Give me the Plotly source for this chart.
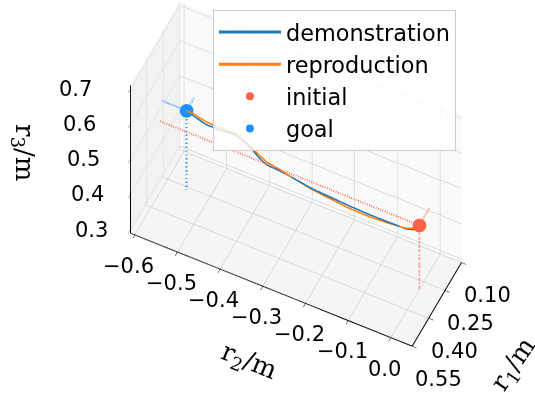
import plotly.graph_objects as go

# reproduced trajectory (r1, r2, r3 in metres)
r1_rep = [0.265, 0.266, 0.267, 0.269, 0.270, 0.272, 0.273, 0.274, 0.275,
          0.276, 0.278, 0.280, 0.282, 0.285, 0.287, 0.288, 0.289, 0.290]
r2_rep = [-0.552, -0.536, -0.506, -0.473, -0.436, -0.403, -0.380, -0.361, -0.334,
          -0.303, -0.257, -0.210, -0.164, -0.117, -0.071, -0.031, -0.008, 0.000]
r3_rep = [0.516, 0.516, 0.508, 0.508, 0.510, 0.495, 0.478, 0.467, 0.462,
          0.454, 0.444, 0.439, 0.435, 0.436, 0.441, 0.447, 0.460, 0.472]

# demonstrated trajectory
r1_demo = [0.265, 0.266, 0.267, 0.269, 0.270, 0.272, 0.273, 0.274, 0.275,
           0.276, 0.278, 0.280, 0.282, 0.285, 0.287, 0.288, 0.289, 0.290]
r2_demo = [-0.552, -0.536, -0.506, -0.473, -0.436, -0.403, -0.380, -0.361, -0.334,
           -0.303, -0.257, -0.210, -0.164, -0.117, -0.071, -0.031, -0.010, -0.005]
r3_demo = [0.516, 0.510, 0.500, 0.502, 0.506, 0.491, 0.470, 0.459, 0.458,
           0.454, 0.446, 0.444, 0.442, 0.442, 0.444, 0.445, 0.454, 0.462]

initial = (0.290, 0.000, 0.472)
goal = (0.265, -0.552, 0.516)

# planes the guide lines are dropped onto
r1_plane = 0.195
r2_plane = -0.61
r3_plane = 0.29

r1_range = [0.10, 0.55]
r2_range = [-0.61, 0.05]
r3_range = [0.29, 0.71]
r1_ticks = [0.10, 0.25, 0.40, 0.55]
r2_ticks = [-0.6, -0.5, -0.4, -0.3, -0.2, -0.1, 0.0]
r3_ticks = [0.3, 0.4, 0.5, 0.6, 0.7]

C_DEMO = "#1f77b4"
C_REP = "#ff7f0e"
C_INIT = "#ff6347"
C_GOAL = "#1e90ff"


def fmt(v, nd):
    s = f"{v:.{nd}f}"
    return s.replace("-", "\u2212")


def guides(p, color):
    x, y, z = p
    segs_x = [x, r1_plane, None, x, x, None, x, x]
    segs_y = [y, y, None, y, r2_plane, None, y, y]
    segs_z = [z, z, None, z, z, None, z, r3_plane]
    return go.Scatter3d(x=segs_x, y=segs_y, z=segs_z, mode="lines",
                        line=dict(color=color, width=4, dash="dot"),
                        showlegend=False, hoverinfo="skip")


fig = go.Figure()
fig.add_trace(guides(initial, C_INIT))
fig.add_trace(guides(goal, C_GOAL))
fig.add_trace(go.Scatter3d(x=r1_demo, y=r2_demo, z=r3_demo, mode="lines",
                           name="demonstration", line=dict(color=C_DEMO, width=3)))
fig.add_trace(go.Scatter3d(x=r1_rep, y=r2_rep, z=r3_rep, mode="lines",
                           name="reproduction", line=dict(color=C_REP, width=3)))
fig.add_trace(go.Scatter3d(x=[initial[0]], y=[initial[1]], z=[initial[2]], mode="markers",
                           name="initial", marker=dict(color=C_INIT, size=8)))
fig.add_trace(go.Scatter3d(x=[goal[0]], y=[goal[1]], z=[goal[2]], mode="markers",
                           name="goal", marker=dict(color=C_GOAL, size=8)))

tick_font = dict(family="DejaVu Sans", size=21, color="black")
title_font = dict(family="DejaVu Serif", size=26, color="black")


def axis(rng, ticks, pane):
    return dict(range=rng, tickvals=ticks, showticklabels=False,
                title=dict(text=""),
                showbackground=True, backgroundcolor=pane,
                gridcolor="#c4c4c4", gridwidth=1,
                showline=True, linecolor="black", linewidth=2,
                ticks="outside", tickcolor="black", ticklen=5,
                zeroline=False, showspikes=False, autorange=False)


# tick labels placed next to the drawn axis edges
tick_notes = []
for t in r3_ticks:
    lean = (t - r3_ticks[0]) / (r3_ticks[-1] - r3_ticks[0])
    tick_notes.append(dict(x=r1_range[1], y=r2_range[0], z=t, text=fmt(t, 1),
                           showarrow=False, xanchor="right", yanchor="middle",
                           xshift=-20 - 16 * lean, font=tick_font))
for t in r2_ticks:
    tick_notes.append(dict(x=r1_range[1], y=t, z=r3_range[0], text=fmt(t, 1),
                           showarrow=False, xanchor="center", yanchor="middle",
                           xshift=-6, yshift=-31, font=tick_font))
for t in r1_ticks:
    tick_notes.append(dict(x=t, y=r2_range[1], z=r3_range[0], text=fmt(t, 2),
                           showarrow=False, xanchor="center", yanchor="middle",
                           xshift=26, yshift=-33, font=tick_font))

titles = [
    dict(x=0.045, y=0.619, text="r<sub>3</sub>/m", textangle=90),
    dict(x=0.4636, y=0.093, text="r<sub>2</sub>/m", textangle=22),
    dict(x=0.959, y=0.085, text="r<sub>1</sub>/m", textangle=-56),
]
title_notes = [dict(xref="paper", yref="paper", showarrow=False, xanchor="center",
                    yanchor="middle", font=title_font, **t) for t in titles]

d = (0.508, 0.247, 0.825)
k = 4.0
s = 1.8
fig.update_layout(
    width=535, height=399, margin=dict(l=0, r=0, t=0, b=0),
    paper_bgcolor="white",
    font=dict(family="DejaVu Sans"),
    annotations=title_notes,
    scene=dict(
        domain=dict(x=[0.106, 1.0], y=[0.128, 1.0]),
        xaxis=axis(r1_range, r1_ticks, "#f9f9f9"),
        yaxis=axis(r2_range, r2_ticks, "#f2f2f2"),
        zaxis=axis(r3_range, r3_ticks, "#f5f5f5"),
        aspectmode="manual",
        aspectratio=dict(x=0.36 * s, y=1.0 * s, z=0.835 * s),
        camera=dict(eye=dict(x=d[0] * k, y=d[1] * k, z=d[2] * k),
                    up=dict(x=0, y=0, z=1),
                    projection=dict(type="orthographic")),
        annotations=tick_notes,
    ),
    legend=dict(x=0.398, y=0.975, xanchor="left", yanchor="top",
                bgcolor="rgba(255,255,255,0.8)", bordercolor="#cccccc", borderwidth=1,
                font=dict(family="DejaVu Sans", size=22.4, color="black"),
                itemwidth=62, tracegroupgap=0),
)

fig.write_html("out.html")
